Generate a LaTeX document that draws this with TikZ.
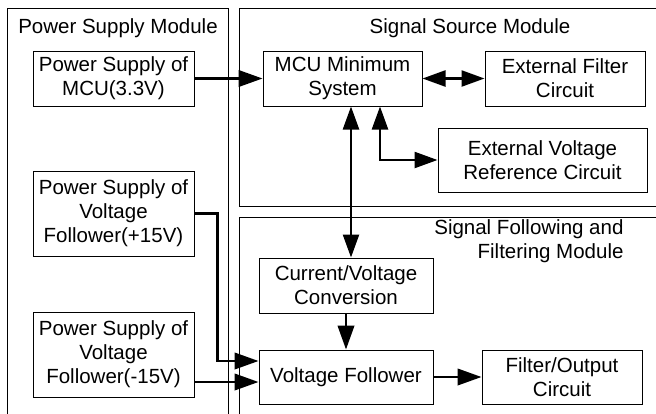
\documentclass[tikz,border=0pt]{standalone}
\usepackage{fontspec}
\setmainfont{Liberation Sans}
\usetikzlibrary{arrows.meta,positioning,calc}
\tikzset{
  every picture/.style={line width=1pt},
  sblock/.style={draw, align=center, inner sep=0pt,
                 font=\fontsize{20.5}{24}\selectfont},
  smodule/.style={draw},
  stitle/.style={align=center, inner sep=0pt,
                 font=\fontsize{20.5}{24}\selectfont},
  sarr/.style={line width=2.4pt, -{Triangle[length=24pt,width=16.5pt]}},
  sarrb/.style={line width=2.4pt,
                {Triangle[length=23pt,width=16pt]}-{Triangle[length=23pt,width=16pt]}},
}

\begin{document}
\begin{tikzpicture}[x=1pt, y=-1pt]
  \fill[white] (0,0) rectangle (656,413);
  \clip (0,0) rectangle (656,413);
  % modules
  \draw[smodule] (7,8) rectangle (228,440);
  \draw[smodule] (239,8) rectangle (680,206);
  \draw[smodule] (239,217) rectangle (680,440);
  \node[stitle] (pstitle) at (118,28) {Power Supply Module};
  \node[stitle] (sstitle) at (470,28) {Signal Source Module};
  \node[stitle, align=right, anchor=east] (sftitle) at (624,241.5)
        {Signal Following and\\Filtering Module};
  % blocks
  \node[sblock, minimum width=161, minimum height=55] (psmcu) at (113.5,78.5)
        {Power Supply of\\MCU(3.3V)};
  \node[sblock, minimum width=161, minimum height=85] (pspos) at (113.5,213.5)
        {Power Supply of\\Voltage\\Follower(+15V)};
  \node[sblock, minimum width=161, minimum height=85] (psneg) at (113.5,354.5)
        {Power Supply of\\Voltage\\Follower(-15V)};
  \node[sblock, minimum width=159, minimum height=55] (mcu) at (342.5,78.5)
        {MCU Minimum\\System};
  \node[sblock, minimum width=160, minimum height=55] (extf) at (565,78.5)
        {External Filter\\Circuit};
  \node[sblock, minimum width=209, minimum height=64] (extref) at (542.5,160)
        {External Voltage\\Reference Circuit};
  \node[sblock, minimum width=174, minimum height=55] (cv) at (346,285.5)
        {Current/Voltage\\Conversion};
  \node[sblock, minimum width=174, minimum height=54] (vf) at (346,377)
        {Voltage Follower};
  \node[sblock, minimum width=160, minimum height=54] (fout) at (562,377)
        {Filter/Output\\Circuit};
  % connections
  \draw[sarr] (psmcu.east) -- (mcu.west);
  \draw[sarrb] (mcu.east) -- (extf.west);
  \draw[sarrb] ([xshift=37.5pt]mcu.south) |- (extref.west);
  \draw[sarrb] ([xshift=8.5pt]mcu.south) -- ([xshift=5pt]cv.north);
  \draw[sarr] (cv.south) -- (vf.north);
  \draw[sarr] (pspos.east) -- ++(23,0) |- ([yshift=16pt]vf.west);
  \draw[sarr] ([yshift=-27.5pt]psneg.east) -- ([yshift=-5pt]vf.west);
  \draw[sarr] (vf.east) -- (fout.west);
\end{tikzpicture}
\end{document}
